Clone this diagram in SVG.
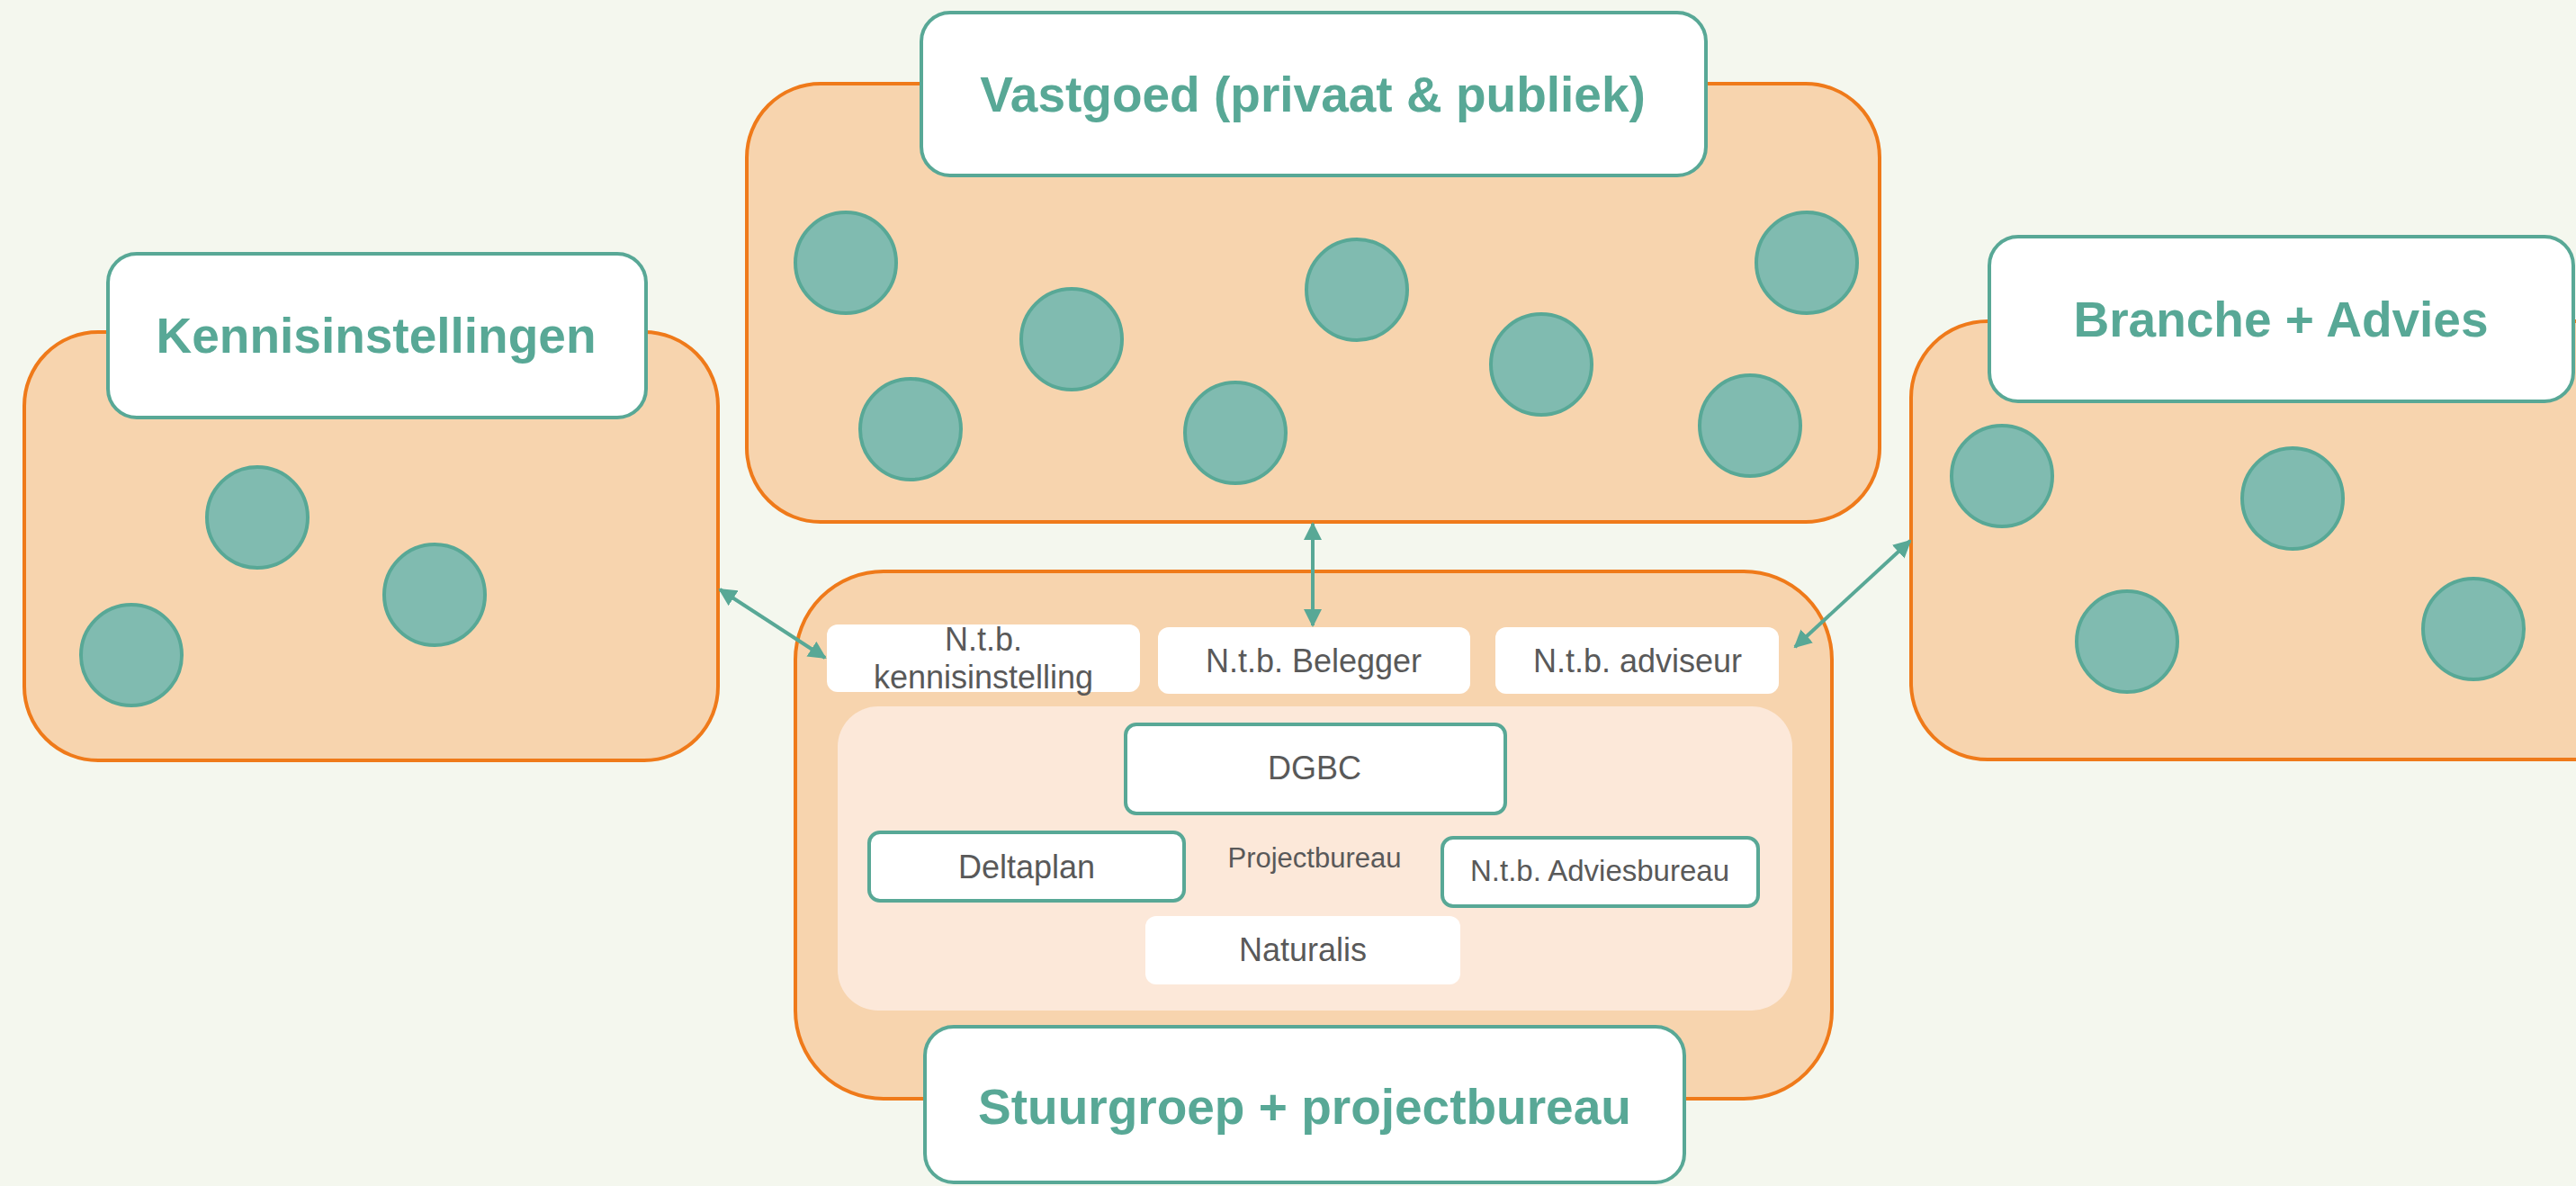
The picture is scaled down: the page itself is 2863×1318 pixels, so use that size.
<svg xmlns="http://www.w3.org/2000/svg" width="2863" height="1318" viewBox="0 0 2863 1318">
<style>
.grp{fill:#f7d4ae;stroke:#ef7a1a;stroke-width:4}
.lbl{fill:#ffffff;stroke:#58a896;stroke-width:4}
.dot{fill:#80bbb0;stroke:#58a896;stroke-width:4}
.ttl{font-family:"Liberation Sans",Arial,sans-serif;font-weight:bold;font-size:55px;fill:#58a896;text-anchor:middle}
.wb{fill:#ffffff}
.ib{fill:#ffffff;stroke:#58a896;stroke-width:4}
.txt{font-family:"Liberation Sans",Arial,sans-serif;font-size:36px;fill:#595959;text-anchor:middle}
.con{stroke:#58a896;stroke-width:4;fill:none;marker-start:url(#ah);marker-end:url(#ah)}
</style>
<defs>
<marker id="ah" viewBox="0 0 10 10" refX="9" refY="5" markerWidth="5" markerHeight="5" orient="auto-start-reverse" markerUnits="strokeWidth">
<path d="M0,0 L10,5 L0,10 z" fill="#58a896"/>
</marker>
</defs>
<rect width="2863" height="1318" fill="#f4f7ee"/>

<g id="kennisinstellingen">
<rect class="grp" x="27" y="369" width="771" height="476" rx="82"/>
<circle class="dot" cx="286" cy="575" r="56"/>
<circle class="dot" cx="483" cy="661" r="56"/>
<circle class="dot" cx="146" cy="728" r="56"/>
<rect class="lbl" x="120" y="282" width="598" height="182" rx="32"/>
<text class="ttl" x="418" y="392">Kennisinstellingen</text>
</g>

<g id="vastgoed">
<rect class="grp" x="830" y="93" width="1259" height="487" rx="82"/>
<circle class="dot" cx="940" cy="292" r="56"/>
<circle class="dot" cx="1191" cy="377" r="56"/>
<circle class="dot" cx="1012" cy="477" r="56"/>
<circle class="dot" cx="1508" cy="322" r="56"/>
<circle class="dot" cx="1373" cy="481" r="56"/>
<circle class="dot" cx="1713" cy="405" r="56"/>
<circle class="dot" cx="2008" cy="292" r="56"/>
<circle class="dot" cx="1945" cy="473" r="56"/>
<rect class="lbl" x="1024" y="14" width="872" height="181" rx="32"/>
<text class="ttl" x="1459" y="124">Vastgoed (privaat &amp; publiek)</text>
</g>

<g id="branche-advies">
<rect class="grp" x="2124" y="357" width="900" height="487" rx="85"/>
<circle class="dot" cx="2225" cy="529" r="56"/>
<circle class="dot" cx="2548" cy="554" r="56"/>
<circle class="dot" cx="2364" cy="713" r="56"/>
<circle class="dot" cx="2749" cy="699" r="56"/>
<rect class="lbl" x="2211" y="263" width="649" height="183" rx="32"/>
<text class="ttl" x="2535" y="374">Branche + Advies</text>
</g>

<g id="stuurgroep">
<rect class="grp" x="884" y="635" width="1152" height="586" rx="98"/>
<rect x="931" y="785" width="1061" height="338" rx="45" fill="#fce8d9"/>
<g id="ntb-kennisinstelling">
<rect class="wb" x="919" y="694" width="348" height="75" rx="12"/>
<text class="txt" x="1093" y="723">N.t.b.</text>
<text class="txt" x="1093" y="765">kennisinstelling</text>
</g>
<g id="ntb-belegger">
<rect class="wb" x="1287" y="697" width="347" height="74" rx="12"/>
<text class="txt" x="1460" y="747">N.t.b. Belegger</text>
</g>
<g id="ntb-adviseur">
<rect class="wb" x="1662" y="697" width="315" height="74" rx="12"/>
<text class="txt" x="1820" y="747">N.t.b. adviseur</text>
</g>
<g id="dgbc">
<rect class="ib" x="1251" y="805" width="422" height="99" rx="12"/>
<text class="txt" x="1461" y="866">DGBC</text>
</g>
<g id="deltaplan">
<rect class="ib" x="966" y="925" width="350" height="76" rx="12"/>
<text class="txt" x="1141" y="976">Deltaplan</text>
</g>
<text class="txt" x="1461" y="964" style="font-size:31px">Projectbureau</text>
<g id="ntb-adviesbureau">
<rect class="ib" x="1603" y="931" width="351" height="76" rx="12"/>
<text class="txt" x="1778" y="979" style="font-size:33px">N.t.b. Adviesbureau</text>
</g>
<g id="naturalis">
<rect class="wb" x="1273" y="1018" width="350" height="76" rx="12"/>
<text class="txt" x="1448" y="1068">Naturalis</text>
</g>
<rect class="lbl" x="1028" y="1141" width="844" height="173" rx="32"/>
<text class="ttl" x="1450" y="1249">Stuurgroep + projectbureau</text>
</g>

<g id="connectors">
<line class="con" x1="800" y1="655" x2="917" y2="731"/>
<line class="con" x1="1459" y1="582" x2="1459" y2="695"/>
<line class="con" x1="2123" y1="601" x2="1995" y2="719"/>
</g>
</svg>
